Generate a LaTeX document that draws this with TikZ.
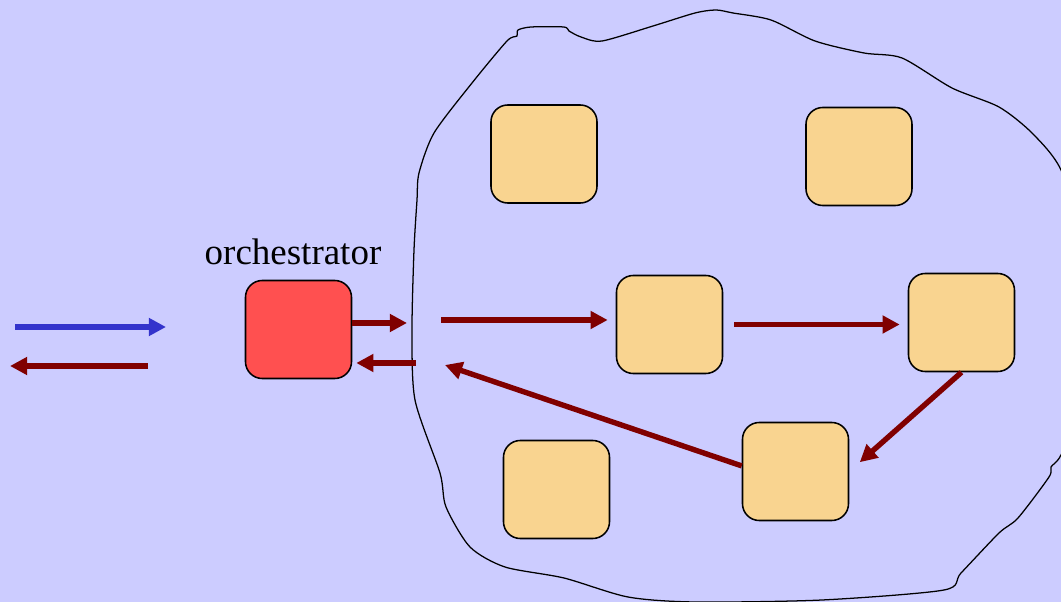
\documentclass[tikz,border=0pt]{standalone}
\usepackage{fontspec}
\setmainfont{Liberation Serif}
\usepackage{xcolor}
\usetikzlibrary{arrows.meta}
\definecolor{bglav}{HTML}{CCCCFF}
\definecolor{svcfill}{HTML}{F9D490}
\definecolor{orchred}{HTML}{FF5050}
\definecolor{flowred}{HTML}{800000}
\definecolor{reqblue}{HTML}{3333CC}
\tikzset{
  svc/.style={draw=black,line width=1.1pt,fill=svcfill,rounded corners=0.42cm,
    minimum width=2.65cm,minimum height=2.45cm,inner sep=0pt},
  orchbox/.style={svc,fill=orchred},
  flow/.style={draw=flowred,line width=0.135cm,-{Triangle[length=0.43cm,width=0.43cm]}},
  req/.style={flow,draw=reqblue,line width=0.14cm}
}

\begin{document}
\begin{tikzpicture}[x=0.025cm,y=-0.025cm]
    \fill[bglav] (0,0) rectangle (1061,602);
    \useasboundingbox (0,0) rectangle (1061,602);
    % the cloud of services
    \begin{scope}
    \clip (0,0) rectangle (1061,602);
    \draw[line width=0.9pt] plot[smooth cycle,tension=0.45] coordinates {
      (417,200) (419,173) (434,133) (472,83) (507,41) (517,36) (518,30) (531,27)
      (564,27) (569,31) (581,37) (602,41) (653,26) (695,13) (716,10) (733,13)
      (771,20) (815,41) (864,53) (902,58) (952,88) (999,107) (1032,133) (1061,170)
      (1085,250) (1085,400) (1061,455) (1051,467) (1049,477) (1018,518) (999,533)
      (961,573) (944,590) (822,600) (695,602) (628,597) (564,578) (505,567)
      (470,547) (446,507) (440,473) (415,400) (412,330) (414,250)};
    \end{scope}
    % nodes
    \node[orchbox] (orch) at (298.5,329.5) {};
    \node (orchlbl) at (293,252) {\fontsize{26.3}{30}\selectfont orchestrator};
    \node[svc] (s1) at (544,154) {};
    \node[svc] (s2) at (859,156.5) {};
    \node[svc] (s3) at (669.5,324.5) {};
    \node[svc] (s4) at (961.5,322.5) {};
    \node[svc] (s5) at (556.5,489.5) {};
    \node[svc] (s6) at (795.5,471.5) {};
    \coordinate (reqin) at (15,327);   \coordinate (reqend) at (166,327);
    \coordinate (resin) at (148,366);  \coordinate (resend) at (10,366);
    \coordinate (gatein) at (407,323); \coordinate (gateout) at (416,363);
    \coordinate (enter) at (441,320);  \coordinate (back) at (445,365);
    % arrows
    \draw[req] (reqin) -- (reqend);
    \draw[flow] (resin) -- (resend);
    \draw[flow] (orch.east |- gatein) -- (gatein);
    \draw[flow] (gateout) -- ([xshift=0.1cm]orch.east |- gateout);
    \draw[flow] (enter) -- ([xshift=-0.2cm]s3.west |- enter);
    \draw[flow,shorten <=0.27cm,shorten >=0.2cm] (s3.east) -- (s4.west |- s3.east);
    \draw[flow,shorten >=0.35cm] (s4.south) -- (s6.east);
    \draw[flow] ([yshift=0.14cm]s6.west) -- (back);
\end{tikzpicture}
\end{document}
